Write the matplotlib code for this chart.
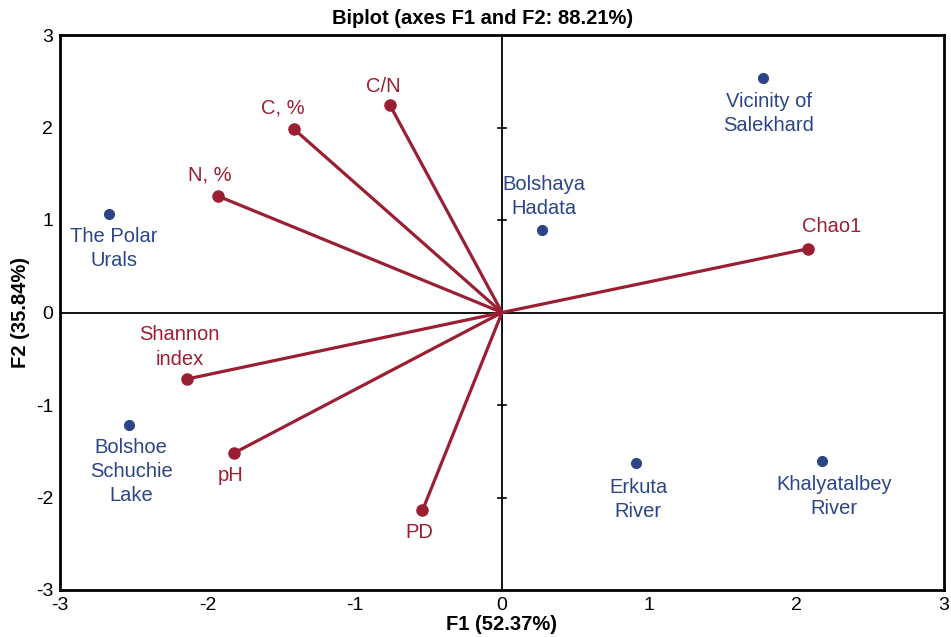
import matplotlib
matplotlib.use("Agg")
import matplotlib.pyplot as plt

plt.rcParams['font.family'] = ['Liberation Sans', 'DejaVu Sans']
plt.rcParams['axes.unicode_minus'] = False

# Observations (sites)
site_names = ["The Polar\nUrals", "Bolshoe\nSchuchie\nLake", "Bolshaya\nHadata",
              "Vicinity of\nSalekhard", "Erkuta\nRiver", "Khalyatalbey\nRiver"]
site_f1 = [-2.67, -2.53, 0.27, 1.77, 0.91, 2.17]
site_f2 = [1.06, -1.22, 0.89, 2.54, -1.63, -1.60]
site_offsets = [(5, -34), (2, -46), (2, 34), (6, -36), (2, -36), (12, -36)]

# Variables (vectors)
var_names = ["C/N", "C, %", "N, %", "Shannon\nindex", "pH", "PD", "Chao1"]
var_f1 = [-0.76, -1.41, -1.93, -2.14, -1.82, -0.54, 2.08]
var_f2 = [2.24, 1.98, 1.26, -0.72, -1.52, -2.14, 0.69]
var_offsets = [(-7, 19), (-11, 21), (-8, 21), (-7, 32), (-3, -22), (-3, -22), (23, 22)]

blue = "#2b4587"
red = "#9a1f33"

fig = plt.figure(figsize=(9.51, 6.37), dpi=100)
ax = fig.add_axes([60/951, 47/637, 884/951, 555/637])
ax.set_xlim(-3, 3)
ax.set_ylim(-3, 3)

ax.axhline(0, color="black", lw=1.3, zorder=1)
ax.axvline(0, color="black", lw=1.3, zorder=1)
# small ticks on the vertical zero line
for yv in [-2, -1, 1, 2]:
    ax.plot([-0.028, 0.028], [yv, yv], color="black", lw=1.2, zorder=1)

for x, y, name, off in zip(var_f1, var_f2, var_names, var_offsets):
    ax.plot([0, x], [0, y], color=red, lw=2.3, zorder=2, solid_capstyle='round')
    ax.plot(x, y, 'o', color=red, ms=8, zorder=3)
    ax.annotate(name, (x, y), xytext=off, textcoords='offset pixels',
                ha='center', va='center', color=red, fontsize=14.5,
                multialignment='center', linespacing=1.35)

for x, y, name, off in zip(site_f1, site_f2, site_names, site_offsets):
    ax.plot(x, y, 'o', color=blue, ms=7, zorder=3)
    ax.annotate(name, (x, y), xytext=off, textcoords='offset pixels',
                ha='center', va='center', color=blue, fontsize=14.5,
                multialignment='center', linespacing=1.35)

ax.set_xticks([-3, -2, -1, 0, 1, 2, 3])
ax.set_yticks([-3, -2, -1, 0, 1, 2, 3])
ax.tick_params(length=0, labelsize=14, pad=5)
for s in ax.spines.values():
    s.set_linewidth(2)

ax.set_xlabel("F1 (52.37%)", fontsize=14.5, fontweight='bold', labelpad=1)
ax.set_ylabel("F2 (35.84%)", fontsize=14.5, fontweight='bold', labelpad=4)
fig.text(483/951, 1 - 18/637, "Biplot (axes F1 and F2: 88.21%)", fontsize=14.5,
         fontweight='bold', ha='center', va='center')

fig.savefig("out.png", dpi=100)
